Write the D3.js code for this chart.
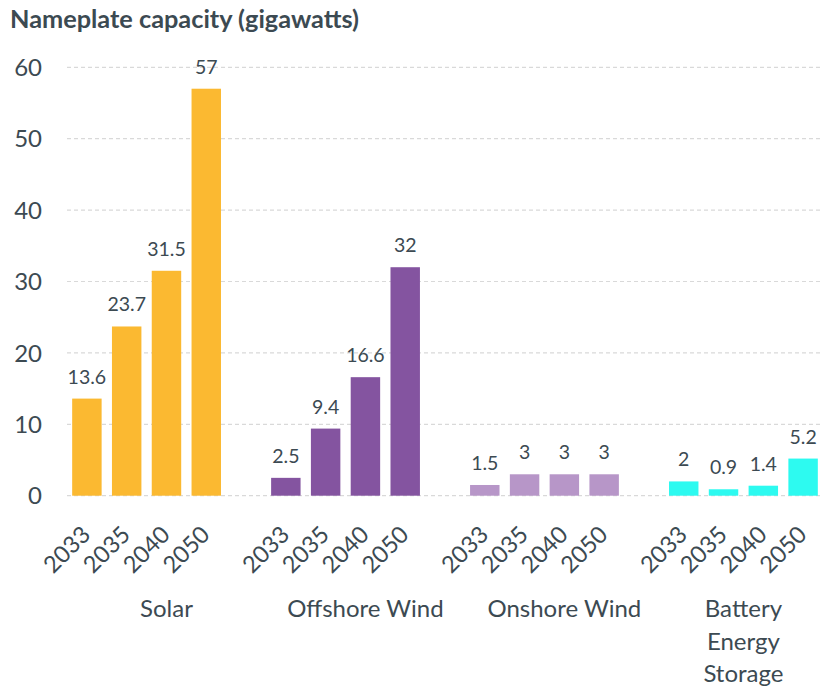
<!DOCTYPE html>
<html>
<head>
<meta charset="utf-8">
<script src="https://cdn.jsdelivr.net/npm/d3@7/dist/d3.min.js"></script>
<style>
  html, body { margin: 0; padding: 0; background: #fff; }
  svg { display: block; font-family: Lato, "Open Sans", sans-serif; }
</style>
</head>
<body>
<svg id="chart" width="823" height="688"></svg>
<script>
// Nameplate capacity by technology and target year (GW)
const groups = ["Solar", "Offshore Wind", "Onshore Wind", "Battery Energy Storage"];
const groupLines = [["Solar"], ["Offshore Wind"], ["Onshore Wind"], ["Battery", "Energy", "Storage"]];
const years = ["2033", "2035", "2040", "2050"];
const solar = [13.6, 23.7, 31.5, 57];
const offshoreWind = [2.5, 9.4, 16.6, 32];
const onshoreWind = [1.5, 3, 3, 3];
const batteryStorage = [2, 0.9, 1.4, 5.2];
const seriesValues = [solar, offshoreWind, onshoreWind, batteryStorage];
const groupColors = ["#FBB931", "#8454A0", "#B796C8", "#2DFAF0"];
const yTicks = [0, 10, 20, 30, 40, 50, 60];

const textColor = "#3C4A52";
const svg = d3.select("#chart");

// Category slots: four years per group, with an empty slot between groups
const slots = [];
groups.forEach((g, gi) => {
  years.forEach(y => slots.push(g + "|" + y));
  if (gi < groups.length - 1) slots.push("gap|" + gi);
});

const x = d3.scaleBand().domain(slots).range([67, 823]).paddingInner(0.26).paddingOuter(0.13);
const y = d3.scaleLinear().domain([0, 60]).range([495.7, 67.3]);

// Title
svg.append("text")
  .attr("x", 10).attr("y", 28)
  .attr("font-size", 25.3).attr("font-weight", 700)
  .attr("fill", textColor)
  .text("Nameplate capacity (gigawatts)");

// Gridlines
svg.append("g").selectAll("line").data(yTicks).join("line")
  .attr("x1", 67).attr("x2", 823)
  .attr("y1", d => y(d)).attr("y2", d => y(d))
  .attr("stroke", "#D9D9D9").attr("stroke-width", 1.2)
  .attr("stroke-dasharray", "4,3");

// Y axis labels
svg.append("g").selectAll("text").data(yTicks).join("text")
  .attr("x", 42).attr("y", d => y(d))
  .attr("dy", "0.36em")
  .attr("text-anchor", "end")
  .attr("font-size", 24)
  .attr("fill", textColor)
  .text(d => d);

// Bars and value labels
const bars = [];
groups.forEach((g, gi) => {
  years.forEach((yr, yi) => {
    bars.push({ key: g + "|" + yr, year: yr, value: seriesValues[gi][yi], color: groupColors[gi] });
  });
});

svg.append("g").selectAll("rect").data(bars).join("rect")
  .attr("x", d => x(d.key))
  .attr("width", x.bandwidth())
  .attr("y", d => y(d.value))
  .attr("height", d => y(0) - y(d.value))
  .attr("fill", d => d.color);

svg.append("g").selectAll("text").data(bars).join("text")
  .attr("x", d => x(d.key) + x.bandwidth() / 2)
  .attr("y", d => y(d.value) - 15)
  .attr("text-anchor", "middle")
  .attr("font-size", 19.5)
  .attr("fill", textColor)
  .text(d => d.value);

// Rotated year labels
svg.append("g").selectAll("text").data(bars).join("text")
  .attr("transform", d => `translate(${x(d.key) + x.bandwidth() / 2 + 5},${536}) rotate(-45)`)
  .attr("text-anchor", "end")
  .attr("font-size", 23.5)
  .attr("fill", textColor)
  .text(d => d.year);

// Group labels centred on each group's slots
groups.forEach((g, gi) => {
  const first = x(g + "|" + years[0]) - x.step() * x.paddingInner() / 2;
  const span = gi < groups.length - 1 ? 5 : 4;
  const cx = first + x.step() * span / 2;
  const t = svg.append("text")
    .attr("x", cx).attr("y", 617)
    .attr("text-anchor", "middle")
    .attr("font-size", 24)
    .attr("fill", textColor);
  groupLines[gi].forEach((line, li) => {
    t.append("tspan").attr("x", cx).attr("dy", li === 0 ? 0 : 32.5).text(line);
  });
});
</script>
</body>
</html>
